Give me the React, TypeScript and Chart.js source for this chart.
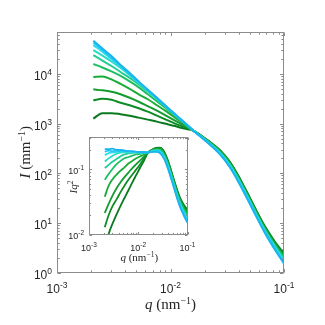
import React, { useEffect, useRef } from 'react';
import { Chart, registerables } from 'chart.js';
Chart.register(...registerables);

// scattering vector q (nm^-1)
const qValues = [0.00209, 0.00251, 0.00302, 0.00363, 0.00437, 0.00525, 0.00631, 0.00759, 0.00912, 0.01096, 0.01318, 0.01585, 0.01905, 0.02291, 0.02754, 0.03311, 0.03981, 0.04786, 0.05754, 0.06918, 0.08318, 0.1];

// intensity I (mm^-1), from dark green to light blue
const intensity1 = [1259, 1622, 1622, 1549, 1445, 1318, 1202, 1096, 989, 891, 794, 724, 550, 407, 285, 174, 87.1, 38.9, 17.0, 7.94, 4.17, 2.40];
const intensity2 = [2951, 3162, 3020, 2630, 2344, 2042, 1738, 1445, 1202, 1000, 851, 724, 550, 398, 282, 170, 85.1, 38.0, 16.6, 7.59, 3.98, 2.29];
const intensity3 = [4898, 4677, 4365, 3890, 3311, 2754, 2239, 1820, 1445, 1148, 912, 724, 537, 398, 275, 166, 81.3, 36.3, 15.8, 7.41, 3.80, 2.19];
const intensity4 = [8710, 8913, 7762, 6310, 5012, 3890, 3090, 2344, 1778, 1318, 977, 724, 537, 389, 269, 158, 79.4, 35.5, 15.5, 7.08, 3.72, 2.04];
const intensity5 = [15849, 13490, 11220, 9120, 7079, 5370, 3890, 2818, 2042, 1445, 1023, 724, 537, 380, 263, 155, 77.6, 34.7, 15.1, 6.92, 3.55, 1.95];
const intensity6 = [23988, 18621, 14454, 10965, 8318, 6166, 4416, 3126, 2188, 1514, 1047, 724, 525, 380, 257, 151, 74.1, 33.1, 14.5, 6.61, 3.39, 1.86];
const intensity7 = [30200, 23442, 17783, 13183, 9441, 6683, 4677, 3199, 2188, 1514, 1047, 724, 525, 372, 251, 148, 72.4, 32.4, 14.1, 6.46, 3.24, 1.78];
const intensity8 = [38019, 28184, 19953, 14125, 10000, 6761, 4677, 3236, 2213, 1514, 1047, 724, 525, 363, 245, 141, 70.8, 31.6, 13.8, 6.17, 3.16, 1.66];
const intensity9 = [42658, 30903, 20893, 14791, 10000, 6918, 4786, 3236, 2239, 1531, 1047, 724, 513, 363, 240, 138, 67.6, 30.2, 13.2, 6.03, 3.02, 1.58];
const intensity10 = [46774, 32359, 22909, 15136, 10471, 7079, 4786, 3311, 2239, 1549, 1059, 724, 513, 355, 234, 135, 66.1, 29.5, 12.9, 5.75, 2.88, 1.51];

const allSeries = [intensity1, intensity2, intensity3, intensity4, intensity5, intensity6, intensity7, intensity8, intensity9, intensity10];

const seriesColors = ['#0a7a1e', '#0f8c26', '#149c2e', '#18ad38', '#1cbf62', '#20cf98', '#26dcc8', '#2cdcec', '#22c8f2', '#1ab4f0'];

// tick labels
const xTickValues = [0.001, 0.01, 0.1];
const xTickExponents = ['-3', '-2', '-1'];
const yTickValues = [1, 10, 100, 1000, 10000];
const yTickExponents = ['0', '1', '2', '3', '4'];
const insetYTickValues = [0.01, 0.1];
const insetYTickExponents = ['-2', '-1'];

const SANS = "'Liberation Sans', Arial, Helvetica, sans-serif";
const SERIF = "'Liberation Serif', 'Times New Roman', serif";

type Piece = { t: string; italic?: boolean; sup?: boolean };

function drawRich(ctx: CanvasRenderingContext2D, pieces: Piece[], cx: number, baseline: number, size: number, supSize: number, supRaise: number) {
  const fontOf = (p: Piece) => `${p.italic ? 'italic ' : ''}${p.sup ? supSize : size}px ${SERIF}`;
  let total = 0;
  const widths = pieces.map((p) => {
    ctx.font = fontOf(p);
    const w = ctx.measureText(p.t).width;
    total += w;
    return w;
  });
  let x = cx - total / 2;
  ctx.textAlign = 'left';
  ctx.textBaseline = 'alphabetic';
  pieces.forEach((p, i) => {
    ctx.font = fontOf(p);
    ctx.fillText(p.t, x, p.sup ? baseline - supRaise : baseline);
    x += widths[i];
  });
}

function drawPower(ctx: CanvasRenderingContext2D, exp: string, x: number, y: number, size: number, expSize: number, raise: number, align: 'center' | 'right') {
  ctx.font = `${size}px ${SANS}`;
  const wb = ctx.measureText('10').width;
  ctx.font = `${expSize}px ${SANS}`;
  const we = ctx.measureText(exp).width;
  const total = wb + we;
  const start = align === 'center' ? x - total / 2 : x - total;
  ctx.textAlign = 'left';
  ctx.textBaseline = 'alphabetic';
  ctx.font = `${size}px ${SANS}`;
  ctx.fillText('10', start, y);
  ctx.font = `${expSize}px ${SANS}`;
  ctx.fillText(exp, start + wb, y - raise);
}

function minorValues(min: number, max: number): number[] {
  const out: number[] = [];
  for (let d = Math.floor(Math.log10(min)) - 1; d <= Math.ceil(Math.log10(max)); d++) {
    for (let m = 2; m <= 9; m++) {
      const v = m * Math.pow(10, d);
      if (v > min * 1.0001 && v < max * 0.9999) out.push(v);
    }
  }
  return out;
}

type AxesCfg = {
  yTicks: number[];
  yExps: string[];
  majorLen: number;
  minorLen: number;
  size: number;
  expSize: number;
  raise: number;
  xLabelOffset: number;
  yLabelGap: number;
  yLabelDy: number;
  fillBg: boolean;
  titles: (ctx: CanvasRenderingContext2D, area: { left: number; right: number; top: number; bottom: number }) => void;
};

function makeAxesPlugin(cfg: AxesCfg) {
  return {
    id: 'matlabAxes',
    beforeDatasetsDraw(chart: any) {
      if (!cfg.fillBg) return;
      const { ctx, chartArea: a } = chart;
      ctx.save();
      ctx.fillStyle = '#ffffff';
      ctx.fillRect(a.left, a.top, a.right - a.left, a.bottom - a.top);
      ctx.restore();
    },
    afterDraw(chart: any) {
      const { ctx, chartArea: a } = chart;
      const xs = chart.scales.x;
      const ys = chart.scales.y;
      const L = Math.round(a.left) + 0.5;
      const R = Math.round(a.right) - 0.5;
      const T = Math.round(a.top) + 0.5;
      const B = Math.round(a.bottom) - 0.5;
      ctx.save();
      ctx.strokeStyle = '#8c8c8c';
      ctx.lineWidth = 1;
      ctx.strokeRect(L, T, R - L, B - T);
      ctx.beginPath();
      const xTick = (v: number, len: number) => {
        const px = Math.round(xs.getPixelForValue(v)) + 0.5;
        ctx.moveTo(px, B); ctx.lineTo(px, B - len);
        ctx.moveTo(px, T); ctx.lineTo(px, T + len);
      };
      const yTick = (v: number, len: number) => {
        const py = Math.round(ys.getPixelForValue(v)) + 0.5;
        ctx.moveTo(L, py); ctx.lineTo(L + len, py);
        ctx.moveTo(R, py); ctx.lineTo(R - len, py);
      };
      xTickValues.forEach((v) => xTick(v, cfg.majorLen));
      minorValues(xs.min, xs.max).forEach((v) => xTick(v, cfg.minorLen));
      cfg.yTicks.forEach((v) => yTick(v, cfg.majorLen));
      minorValues(ys.min, ys.max).forEach((v) => yTick(v, cfg.minorLen));
      ctx.stroke();

      ctx.fillStyle = '#262626';
      xTickValues.forEach((v, i) => {
        drawPower(ctx, xTickExponents[i], xs.getPixelForValue(v), a.bottom + cfg.xLabelOffset, cfg.size, cfg.expSize, cfg.raise, 'center');
      });
      cfg.yTicks.forEach((v, i) => {
        drawPower(ctx, cfg.yExps[i], a.left - cfg.yLabelGap, ys.getPixelForValue(v) + cfg.yLabelDy, cfg.size, cfg.expSize, cfg.raise, 'right');
      });
      cfg.titles(ctx, a);
      ctx.restore();
    },
  };
}

export default function App() {
  const mainRef = useRef<HTMLCanvasElement>(null);
  const insetRef = useRef<HTMLCanvasElement>(null);

  useEffect(() => {
    const mainDatasets = allSeries.map((arr, i) => ({
      data: qValues.map((q, j) => ({ x: q, y: arr[j] })),
      borderColor: seriesColors[i],
      backgroundColor: seriesColors[i],
      borderWidth: 2,
      pointRadius: 0,
      fill: false,
      order: allSeries.length - 1 - i,
      cubicInterpolationMode: 'monotone' as const,
    }));
    const insetDatasets = allSeries.map((arr, i) => ({
      data: qValues.map((q, j) => ({ x: q, y: arr[j] * q * q })),
      borderColor: seriesColors[i],
      backgroundColor: seriesColors[i],
      borderWidth: 1.8,
      pointRadius: 0,
      fill: false,
      order: allSeries.length - 1 - i,
      cubicInterpolationMode: 'monotone' as const,
    }));

    const mainPlugin = makeAxesPlugin({
      yTicks: yTickValues,
      yExps: yTickExponents,
      majorLen: 3.5,
      minorLen: 2.2,
      size: 12,
      expSize: 8.5,
      raise: 5,
      xLabelOffset: 20,
      yLabelGap: 5,
      yLabelDy: 6.5,
      fillBg: false,
      titles: (ctx, a) => {
        ctx.fillStyle = '#262626';
        const cx = (a.left + a.right) / 2;
        drawRich(ctx, [{ t: 'q', italic: true }, { t: ' (nm' }, { t: '\u22121', sup: true }, { t: ')' }], cx, 309, 15, 10, 5.5);
        ctx.save();
        ctx.translate(30, (a.top + a.bottom) / 2);
        ctx.rotate(-Math.PI / 2);
        drawRich(ctx, [{ t: 'I', italic: true }, { t: ' (mm' }, { t: '\u22121', sup: true }, { t: ')' }], 0, 0, 15, 10, 5.5);
        ctx.restore();
      },
    });

    const insetPlugin = makeAxesPlugin({
      yTicks: insetYTickValues,
      yExps: insetYTickExponents,
      majorLen: 2.5,
      minorLen: 1.6,
      size: 9,
      expSize: 6.5,
      raise: 3.8,
      xLabelOffset: 16,
      yLabelGap: 5,
      yLabelDy: 4.5,
      fillBg: true,
      titles: (ctx, a) => {
        ctx.fillStyle = '#262626';
        const cx = (a.left + a.right) / 2 + 1;
        drawRich(ctx, [{ t: 'q', italic: true }, { t: ' (nm' }, { t: '\u22121', sup: true }, { t: ')' }], cx, 261, 11, 7.5, 4);
        ctx.save();
        ctx.translate(77, 187);
        ctx.rotate(-Math.PI / 2);
        drawRich(ctx, [{ t: 'Iq', italic: true }, { t: '2', sup: true }], 0, 0, 11, 7.5, 4.5);
        ctx.restore();
      },
    });

    const main = new Chart(mainRef.current as HTMLCanvasElement, {
      type: 'line',
      data: { datasets: mainDatasets as any },
      options: {
        animation: false,
        responsive: false,
        devicePixelRatio: 1,
        layout: { padding: { left: 57, top: 32, right: 41, bottom: 52.5 } },
        plugins: { legend: { display: false }, tooltip: { enabled: false } },
        scales: {
          x: { type: 'logarithmic', min: 0.001, max: 0.1, display: false },
          y: { type: 'logarithmic', min: 1, max: 70000, display: false },
        },
      },
      plugins: [mainPlugin],
    });

    const inset = new Chart(insetRef.current as HTMLCanvasElement, {
      type: 'line',
      data: { datasets: insetDatasets as any },
      options: {
        animation: false,
        responsive: false,
        devicePixelRatio: 1,
        layout: { padding: { left: 89, top: 136.5, right: 137.5, bottom: 90.5 } },
        plugins: { legend: { display: false }, tooltip: { enabled: false } },
        scales: {
          x: { type: 'logarithmic', min: 0.001, max: 0.1, display: false },
          y: { type: 'logarithmic', min: 0.01, max: 0.32, display: false },
        },
      },
      plugins: [insetPlugin],
    });

    return () => {
      main.destroy();
      inset.destroy();
    };
  }, []);

  return (
    <div style={{ position: 'fixed', left: 0, top: 0, width: 325, height: 325, background: '#ffffff' }}>
      <canvas ref={mainRef} width={325} height={325} style={{ position: 'absolute', left: 0, top: 0 }} />
      <canvas ref={insetRef} width={325} height={325} style={{ position: 'absolute', left: 0, top: 0 }} />
    </div>
  );
}
